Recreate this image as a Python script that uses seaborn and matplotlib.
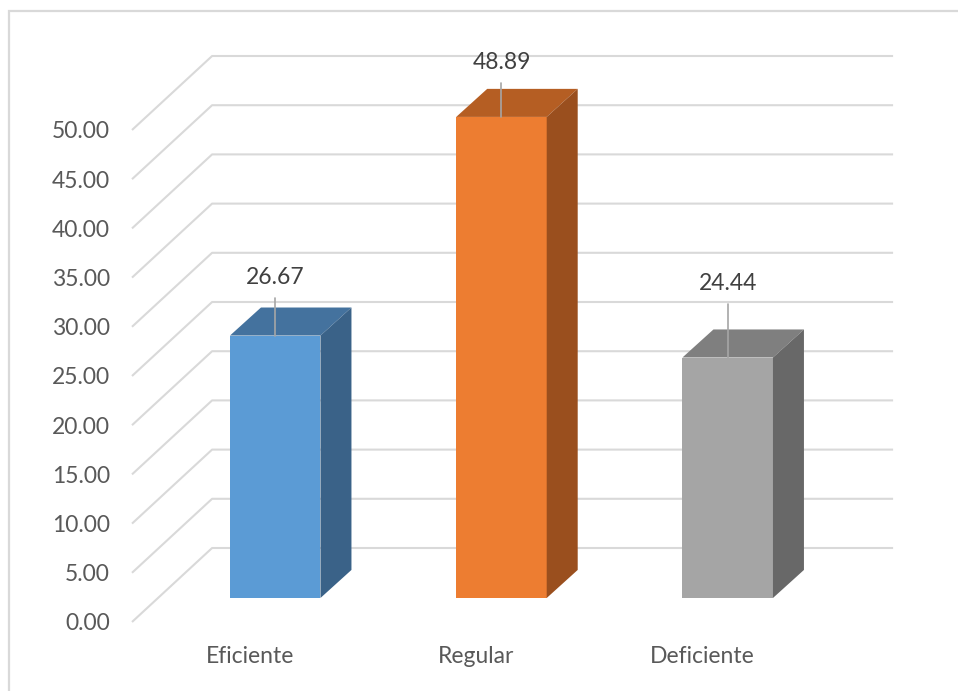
import numpy as np
import pandas as pd
import matplotlib
matplotlib.use("Agg")
import matplotlib.pyplot as plt
import matplotlib.transforms as mtransforms
from matplotlib.patches import Polygon, Rectangle
import seaborn as sns

# ---- data ----
categories = ["Eficiente", "Regular", "Deficiente"]
values = [26.67, 48.89, 24.44]
tick_values = [0, 5, 10, 15, 20, 25, 30, 35, 40, 45, 50]
tick_labels = [f"{v:.2f}" for v in tick_values]

# ---- style ----
front_colors = ["#5B9BD5", "#ED7D31", "#A5A5A5"]
top_colors = ["#44729E", "#B55E23", "#7F7F7F"]
side_colors = ["#3A6288", "#9A4F1E", "#686868"]
label_offsets = [5.9, 5.5, 7.5]   # data-label placement above bar top (layout)
text_color = "#595959"
grid_color = "#D9D9D9"

sns.set_theme(style="white")
plt.rcParams['font.family'] = ['Lato', 'DejaVu Sans']

W, H = 958, 691
fig = plt.figure(figsize=(W / 100, H / 100), dpi=100)
ax = fig.add_axes([132 / W, (H - 622) / H, (813 - 132) / W, (622 - 130) / H])
x_lo, x_hi = -0.52, 2.49

# oblique depth offsets (data units)
wdx, wdy = 0.354, 7.52   # back wall
fdx, fdy = 0.113, 2.44   # bar front face
ddx, ddy = 0.137, 2.85   # bar depth

df = pd.DataFrame({"cat": categories, "val": values})
sns.barplot(data=df, x="cat", y="val", hue="cat", palette=front_colors,
            width=0.40, saturation=1, legend=False, ax=ax, zorder=3)
ax.set_xlim(x_lo, x_hi)
ax.set_ylim(0, 50)

# back wall + side wall gridlines
for v in tick_values:
    ax.plot([x_lo, x_lo + wdx, x_hi + wdx], [v, v + wdy, v + wdy],
            color=grid_color, lw=1.5, clip_on=False, zorder=0.5,
            solid_capstyle="butt")

shift = mtransforms.Affine2D().translate(fdx, fdy) + ax.transData
bars = [p for p in ax.patches]
for i, p in enumerate(bars):
    p.set_transform(shift)
    p.set_clip_on(False)
    p.set_edgecolor("none")
    x0 = p.get_x(); w = p.get_width(); h = p.get_height()
    top = Polygon([[x0, h], [x0 + w, h], [x0 + w + ddx, h + ddy], [x0 + ddx, h + ddy]],
                  closed=True, facecolor=top_colors[i], edgecolor="none",
                  transform=shift, clip_on=False, zorder=3)
    side = Polygon([[x0 + w, 0], [x0 + w + ddx, ddy], [x0 + w + ddx, h + ddy], [x0 + w, h]],
                   closed=True, facecolor=side_colors[i], edgecolor="none",
                   transform=shift, clip_on=False, zorder=3)
    ax.add_patch(top)
    ax.add_patch(side)
    cx = x0 + w / 2
    ax.plot([cx, cx], [h, h + label_offsets[i] - 2.1], color="#A6A6A6", lw=1.2,
            transform=shift, clip_on=False, zorder=4)
    ax.text(cx, h + label_offsets[i], f"{values[i]:.2f}", ha="center", va="center",
            fontsize=16.5, color="#404040", transform=shift, clip_on=False, zorder=5)

ax.set_yticks(tick_values, tick_labels)
ax.set_xticks(range(len(categories)), categories)
ax.set_xlabel("")
ax.set_ylabel("")
ax.tick_params(axis="y", length=0, pad=16, labelsize=16.5, labelcolor=text_color)
ax.tick_params(axis="x", length=0, pad=17, labelsize=16.5, labelcolor=text_color)
for s in ax.spines.values():
    s.set_visible(False)
ax.grid(False)

# chart area border
fig.add_artist(Rectangle((9 / W, -0.02), 1.0, (H - 11) / H + 0.02, fill=False,
                         edgecolor=grid_color, lw=1.6, transform=fig.transFigure))

fig.savefig("out.png", dpi=100, facecolor="white")
